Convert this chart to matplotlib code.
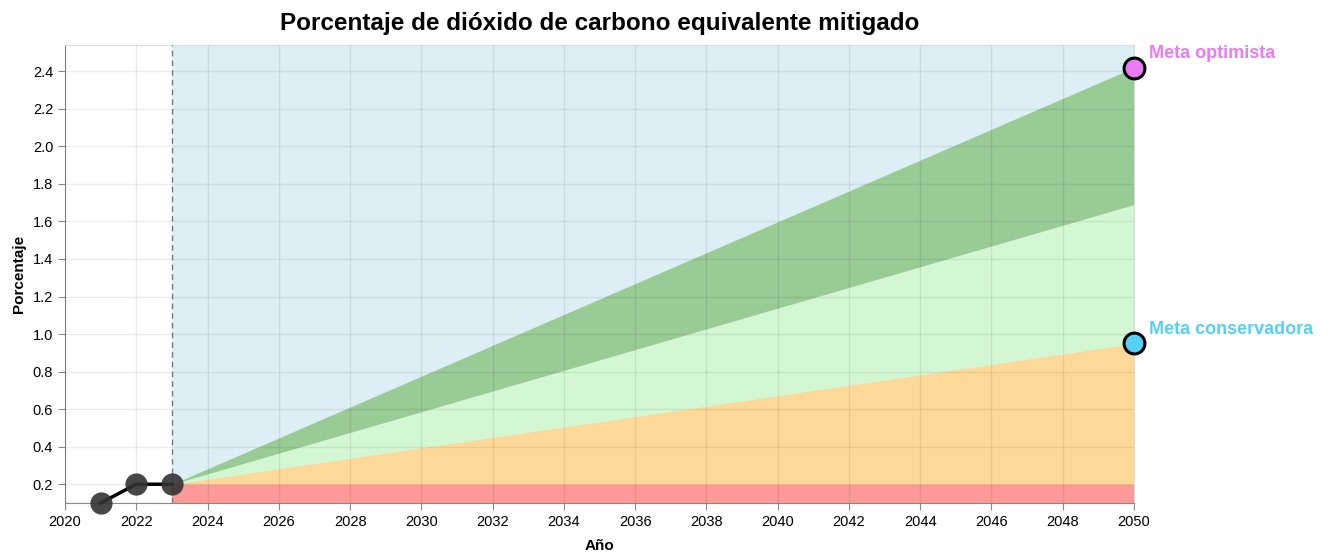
import matplotlib
matplotlib.use("Agg")
import matplotlib.pyplot as plt
from matplotlib.ticker import MultipleLocator, FormatStrFormatter

plt.rcParams['font.family'] = ['Liberation Sans', 'DejaVu Sans']

# histórico
hist_years = [2021, 2022, 2023]
hist_vals = [0.1, 0.2, 0.2]

# escenarios (proyección lineal 2023 -> 2050)
proj_years = [2023, 2050]
base_vals = [0.2, 0.2]
conserv_vals = [0.2, 0.95]
medio_vals = [0.2, 1.69]
optim_vals = [0.2, 2.42]

Y_MIN, Y_MAX = 0.1, 2.54
X_MIN, X_MAX = 2020, 2050

fig = plt.figure(figsize=(13.3, 5.53), dpi=100)
ax = fig.add_axes([65 / 1330, 50 / 553, (1134 - 65) / 1330, (503 - 45) / 553])

# fondo de proyección
ax.fill_between(proj_years, [Y_MIN, Y_MIN], [Y_MAX, Y_MAX], color="#deeef5", lw=0, zorder=1)
ax.fill_between(proj_years, [Y_MIN, Y_MIN], base_vals, color="#fe9999", lw=0, zorder=2)
ax.fill_between(proj_years, base_vals, conserv_vals, color="#fdd999", lw=0, zorder=2)
ax.fill_between(proj_years, conserv_vals, medio_vals, color="#d3f7d3", lw=0, zorder=2)
ax.fill_between(proj_years, medio_vals, optim_vals, color="#99cb95", lw=0, zorder=2)

ax.grid(True, color="black", alpha=0.075, lw=1, zorder=3)
ax.set_axisbelow(False)

ax.axvline(hist_years[-1], color="#777777", lw=1, ls=(0, (4, 3)), zorder=4)

ax.plot(hist_years, hist_vals, color="black", lw=2.5, zorder=5, clip_on=False)
ax.plot(hist_years, hist_vals, "o", ms=16, color="#333333", alpha=0.9, mec="none", zorder=6,
        clip_on=False)

ax.plot(proj_years[-1], optim_vals[-1], "o", ms=15, color="#e97cf5", mec="black", mew=2.2,
        zorder=7, clip_on=False)
ax.plot(proj_years[-1], conserv_vals[-1], "o", ms=15, color="#57d0f7", mec="black", mew=2.2,
        zorder=7, clip_on=False)
ax.annotate("Meta optimista", (proj_years[-1], optim_vals[-1]), xytext=(11, 4),
            textcoords="offset points", color="#e97cf5", fontsize=13, fontweight="bold",
            va="bottom", ha="left", annotation_clip=False)
ax.annotate("Meta conservadora", (proj_years[-1], conserv_vals[-1]), xytext=(11, 4),
            textcoords="offset points", color="#57d0f7", fontsize=13, fontweight="bold",
            va="bottom", ha="left", annotation_clip=False)

ax.set_xlim(X_MIN, X_MAX)
ax.set_ylim(Y_MIN, Y_MAX)
ax.xaxis.set_major_locator(MultipleLocator(2))
ax.yaxis.set_major_formatter(FormatStrFormatter("%.1f"))
ax.set_yticks([0.2 * i for i in range(1, 13)])

for s in ("top", "right"):
    ax.spines[s].set_color("#dddddd")
for s in ("left", "bottom"):
    ax.spines[s].set_color("#888888")
ax.tick_params(colors="#888888", labelcolor="black", labelsize=10.5, length=5)

ax.set_xlabel("Año", fontsize=11, fontweight="bold", labelpad=7)
ax.set_ylabel("Porcentaje", fontsize=11, fontweight="bold", labelpad=5)
fig.suptitle("Porcentaje de dióxido de carbono equivalente mitigado", fontsize=17.5,
             fontweight="bold", x=600 / 1330, y=0.978)

fig.savefig("out.png", dpi=100)
